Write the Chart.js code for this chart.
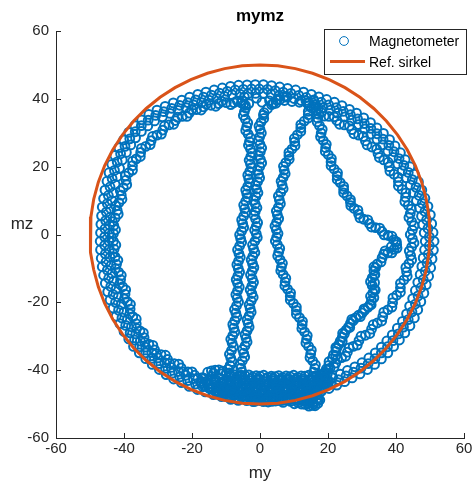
<!DOCTYPE html>
<html>
<head>
<meta charset="utf-8">
<script src="https://cdn.jsdelivr.net/npm/chart.js@4/dist/chart.umd.min.js"></script>
<style>
  html, body { margin: 0; padding: 0; background: #ffffff; }
  #plot { display: block; }
</style>
</head>
<body>
<canvas id="plot" width="476" height="494"></canvas>
<script>
// Magnetometer readings in the my/mz plane, grouped by the trace they belong to.
const outerBand = [
  [51.2,-2.0],[50.9,0.6],[50.5,3.2],[50.1,5.8],[49.4,8.3],[48.5,10.7],[47.6,13.1],[46.6,15.5],[45.4,17.8],[44.1,20.0],
  [42.7,22.1],[41.3,24.1],[39.7,26.1],[38.1,28.0],[36.3,29.8],[34.4,31.4],[32.5,33.0],[30.5,34.4],[28.4,35.8],[26.3,36.9],
  [24.1,38.0],[21.9,39.0],[19.6,39.8],[17.3,40.6],[15.1,41.3],[12.8,42.0],[10.5,42.6],[8.1,43.1],[5.8,43.5],[3.4,43.9],[1.0,44.2],
  [-1.4,44.2],[-3.8,44.1],[-6.3,44.0],[-8.7,43.7],[-11.1,43.2],[-13.5,42.6],[-15.9,42.0],[-18.3,41.3],[-20.7,40.5],[-23.0,39.6],
  [-25.5,38.8],[-27.9,37.8],[-30.3,36.7],[-32.7,35.4],[-34.8,33.8],[-36.8,32.1],[-38.6,30.1],[-40.1,27.9],[-41.5,25.6],[-42.7,23.3],
  [-43.6,20.7],[-44.4,18.2],[-45.0,15.7],[-45.6,13.1],[-46.0,10.6],[-46.4,8.1],[-46.6,5.5],[-46.8,3.0],[-46.9,0.5],[-47.0,-2.0],
  [-46.9,-4.5],[-46.7,-7.0],[-46.4,-9.5],[-46.0,-12.0],[-45.5,-14.4],[-44.8,-16.9],[-44.1,-19.3],[-43.2,-21.7],[-42.3,-24.1],[-41.2,-26.3],
  [-40.0,-28.6],[-38.6,-30.8],[-37.2,-33.0],[-35.5,-34.9],[-33.6,-36.6],[-31.7,-38.3],[-29.6,-39.8],[-27.6,-41.3],[-25.4,-42.6],[-23.1,-43.7],
  [-20.8,-44.8],[-18.4,-45.7],[-16.1,-46.4],[-13.7,-47.2],[-11.3,-47.8],[-8.8,-48.3],[-6.4,-48.7],[-3.9,-49.0],[-1.5,-49.2],[1.0,-49.3],
  [3.5,-49.2],[5.9,-49.0],[8.4,-48.7],[10.8,-48.3],[13.2,-47.7],[15.6,-47.0],[18.0,-46.3],[20.3,-45.4],[22.6,-44.4],[24.9,-43.4],
  [27.1,-42.3],[29.4,-41.1],[31.6,-39.8],[33.7,-38.3],[35.7,-36.7],[37.6,-34.9],[39.3,-33.0],[41.0,-31.1],[42.6,-29.0],[44.1,-26.9],
  [45.4,-24.6],[46.4,-22.2],[47.3,-19.8],[48.2,-17.3],[48.9,-14.8],[49.6,-12.3],[50.2,-9.8],[50.6,-7.2],[51.0,-4.6]
];

const outerBandMid = [
  [49.8,-0.7],[49.4,1.8],[49.0,4.3],[48.5,6.8],[47.7,9.2],[46.8,11.5],[45.9,13.9],[44.8,16.2],[43.6,18.3],[42.3,20.4],
  [40.9,22.4],[39.4,24.4],[37.9,26.3],[36.2,28.1],[34.4,29.7],[32.6,31.3],[30.7,32.7],[28.7,34.1],[26.6,35.3],[24.5,36.3],
  [22.4,37.4],[20.2,38.2],[18.0,39.0],[15.8,39.7],[13.6,40.4],[11.4,41.0],[9.1,41.6],[6.8,42.0],[4.5,42.4],[2.2,42.8],
  [-0.2,42.9],[-2.5,42.9],[-4.9,42.8],[-7.3,42.6],[-9.6,42.2],[-11.9,41.7],[-14.3,41.1],[-16.6,40.5],[-18.9,39.7],[-21.2,38.9],
  [-23.6,38.1],[-26.0,37.2],[-28.3,36.2],[-30.7,35.1],[-32.9,33.7],[-34.9,32.1],[-36.7,30.3],[-38.3,28.2],[-39.7,26.0],[-41.0,23.8],
  [-42.0,21.4],[-42.8,18.9],[-43.5,16.5],[-44.1,14.0],[-44.6,11.5],[-44.9,9.1],[-45.2,6.6],[-45.4,4.1],[-45.6,1.7],[-45.7,-0.7],
  [-45.7,-3.2],[-45.5,-5.7],[-45.3,-8.1],[-44.9,-10.5],[-44.5,-12.9],[-43.9,-15.3],[-43.2,-17.7],[-42.5,-20.0],[-41.6,-22.3],[-40.6,-24.6],
  [-39.5,-26.8],[-38.2,-29.0],[-36.9,-31.1],[-35.4,-33.1],[-33.6,-34.9],[-31.8,-36.5],[-29.8,-38.1],[-27.8,-39.5],[-25.8,-40.9],[-23.6,-42.0],
  [-21.3,-43.1],[-19.0,-44.1],[-16.8,-44.9],[-14.5,-45.6],[-12.1,-46.3],[-9.8,-46.8],[-7.4,-47.2],[-5.0,-47.6],[-2.6,-47.8],[-0.2,-48.0],
  [2.2,-48.0],[4.6,-47.8],[7.0,-47.6],[9.4,-47.2],[11.7,-46.7],[14.0,-46.1],[16.4,-45.4],[18.7,-44.7],[20.9,-43.7],[23.1,-42.8],
  [25.3,-41.7],[27.5,-40.6],[29.7,-39.4],[31.8,-38.1],[33.8,-36.6],[35.7,-34.9],[37.5,-33.1],[39.1,-31.3],[40.7,-29.3],[42.2,-27.3],
  [43.6,-25.1],[44.7,-22.8],[45.7,-20.5],[46.5,-18.1],[47.3,-15.7],[48.0,-13.3],[48.6,-10.8],[49.1,-8.3],[49.5,-5.8],[49.8,-3.3]
];

const outerBandInner = [
  [48.6,-2.0],[48.3,0.5],[47.9,2.9],[47.5,5.4],[46.9,7.8],[46.0,10.0],[45.1,12.3],[44.2,14.6],[43.0,16.7],[41.8,18.8],
  [40.5,20.8],[39.1,22.7],[37.6,24.6],[36.1,26.4],[34.4,28.1],[32.6,29.6],[30.8,31.1],[28.9,32.4],[26.9,33.7],[24.9,34.7],
  [22.8,35.8],[20.7,36.7],[18.5,37.4],[16.4,38.2],[14.3,38.8],[12.1,39.5],[10.0,40.1],[7.7,40.5],[5.5,40.9],[3.3,41.3],[1.0,41.6],
  [-1.3,41.6],[-3.5,41.5],[-5.9,41.4],[-8.2,41.2],[-10.4,40.7],[-12.7,40.1],[-15.0,39.6],[-17.2,38.9],[-19.5,38.2],[-21.7,37.4],
  [-24.1,36.6],[-26.4,35.7],[-28.7,34.7],[-31.0,33.5],[-33.0,32.0],[-34.9,30.4],[-36.6,28.5],[-38.0,26.4],[-39.3,24.2],[-40.5,22.0],
  [-41.3,19.5],[-42.0,17.1],[-42.6,14.8],[-43.1,12.3],[-43.5,9.9],[-43.9,7.6],[-44.0,5.1],[-44.2,2.7],[-44.3,0.4],[-44.4,-2.0],
  [-44.3,-4.4],[-44.1,-6.7],[-43.8,-9.1],[-43.5,-11.5],[-43.0,-13.7],[-42.3,-16.1],[-41.7,-18.4],[-40.8,-20.6],[-40.0,-22.9],[-39.0,-25.0],
  [-37.8,-27.2],[-36.5,-29.3],[-35.2,-31.4],[-33.6,-33.2],[-31.8,-34.8],[-30.0,-36.4],[-28.0,-37.8],[-26.1,-39.2],[-24.0,-40.4],[-21.8,-41.5],
  [-19.6,-42.5],[-17.3,-43.3],[-15.2,-44.0],[-12.9,-44.7],[-10.6,-45.3],[-8.3,-45.8],[-6.0,-46.1],[-3.6,-46.4],[-1.4,-46.6],[1.0,-46.7],
  [3.4,-46.6],[5.6,-46.4],[8.0,-46.1],[10.3,-45.8],[12.5,-45.2],[14.8,-44.5],[17.1,-43.9],[19.2,-43.0],[21.4,-42.1],[23.6,-41.2],
  [25.7,-40.1],[27.9,-39.0],[30.0,-37.8],[32.0,-36.4],[33.9,-34.9],[35.7,-33.2],[37.3,-31.4],[38.9,-29.6],[40.4,-27.6],[41.9,-25.6],
  [43.1,-23.4],[44.0,-21.1],[44.9,-18.9],[45.7,-16.5],[46.4,-14.1],[47.1,-11.8],[47.6,-9.4],[48.0,-6.9],[48.4,-4.5]
];

const leftInnerBand = [
  [-3.3,38.6],[-5.5,38.8],[-7.7,38.9],[-9.9,38.9],[-12.2,38.6],[-14.4,38.1],[-16.6,37.6],[-18.7,36.8],[-20.8,35.8],[-22.9,34.8],
  [-24.9,33.6],[-26.8,32.3],[-28.6,30.8],[-30.3,29.3],[-32.0,27.7],[-33.6,26.0],[-35.1,24.2],[-36.4,22.3],[-37.5,20.3],[-38.6,18.2],
  [-39.4,16.0],[-40.2,13.8],[-40.8,11.6],[-41.5,9.4],[-42.0,7.1],[-42.6,4.9],[-43.0,2.6],[-43.1,0.3],[-43.1,-2.0],[-42.9,-4.3],
  [-42.6,-6.6],[-42.2,-8.8],[-41.6,-11.1],[-41.0,-13.3],[-40.4,-15.4],[-39.7,-17.6],[-39.0,-19.8],[-38.2,-22.0],[-37.4,-24.2],[-36.4,-26.3],
  [-35.3,-28.4],[-34.1,-30.4],[-32.7,-32.3],[-31.0,-34.0],[-29.1,-35.4],[-27.2,-36.8],[-25.2,-38.1],[-23.2,-39.3],[-21.2,-40.5],[-19.2,-41.5],
  [-17.0,-42.2]
];

const leftInnerBandPass2 = [
  [-4.3,38.1],[-6.7,39.4],[-8.6,38.3],[-11.3,39.3],[-13.0,37.8],[-15.8,38.4],[-17.3,36.7],[-20.1,36.8],[-21.5,34.8],[-24.3,34.6],
  [-25.4,32.5],[-28.1,32.0],[-29.0,29.6],[-31.6,28.9],[-32.3,26.5],[-34.9,25.4],[-35.2,23.0],[-37.5,21.6],[-37.5,19.0],[-39.6,17.3],
  [-39.2,14.7],[-41.1,12.9],[-40.6,10.4],[-42.4,8.4],[-41.7,6.0],[-43.4,3.8],[-42.5,1.4],[-43.7,-0.9],[-42.4,-3.1],[-43.3,-5.6],
  [-41.8,-7.6],[-42.5,-10.1],[-40.8,-12.0],[-41.3,-14.6],[-39.5,-16.3],[-39.9,-19.0],[-38.1,-20.6],[-38.3,-23.4],[-36.4,-24.9],[-36.3,-27.7],
  [-34.3,-29.0],[-33.9,-31.8],[-31.5,-32.7],[-30.5,-35.2],[-27.8,-35.6],[-26.6,-38.0],[-23.9,-38.2],[-22.5,-40.5],[-20.0,-40.5],[-18.3,-42.4]
];

const rightInnerBand = [
  [13.5,39.5],[15.8,37.6],[18.0,36.0],[20.3,34.8],[22.6,33.6],[24.8,32.3],[27.0,30.9],[29.0,29.3],[31.0,27.6],[32.9,25.8],
  [34.7,23.9],[36.4,22.0],[38.0,20.0],[39.4,17.8],[40.7,15.6],[41.8,13.3],[42.8,11.0],[43.6,8.6],[44.2,6.2],[44.6,3.8],
  [44.8,1.3],[44.8,-1.2],[44.6,-3.7],[44.3,-6.2],[43.8,-8.6],[43.1,-11.0],[42.3,-13.4],[41.3,-15.7],[40.2,-17.9],[39.0,-20.1],
  [37.6,-22.2],[36.1,-24.2],[34.5,-26.1],[32.8,-27.9],[31.0,-29.7],[29.1,-31.3],[27.4,-33.0],[25.7,-34.7],[24.0,-36.3],[22.3,-37.9],
  [20.6,-39.4],[19.0,-40.9]
];

const rightInnerBandPass2 = [
  [14.4,38.0],[17.2,37.3],[18.9,34.9],[21.8,34.7],[23.4,32.5],[26.3,32.0],[27.6,29.7],[30.4,28.9],[31.5,26.4],[34.3,25.2],
  [35.1,22.7],[37.7,21.3],[38.2,18.7],[40.6,16.9],[40.7,14.3],[42.9,12.3],[42.6,9.7],[44.5,7.5],[43.8,5.0],[45.3,2.6],
  [44.2,0.0],[45.3,-2.5],[43.9,-4.9],[44.6,-7.5],[42.9,-9.7],[43.3,-12.3],[41.3,-14.4],[41.3,-17.0],[39.1,-18.7],[38.8,-21.4],
  [36.4,-22.9],[35.8,-25.5],[33.3,-26.6],[32.3,-29.2],[29.7,-30.0],[28.6,-32.6],[26.2,-33.4],[25.2,-35.9],[22.8,-36.7],[21.8,-39.1],
  [19.5,-39.7]
];

const arrowLoop = [
  [16.6,36.5],[17.0,34.3],[17.5,32.1],[18.0,29.9],[18.6,27.7],[19.3,25.6],[20.1,23.5],[20.9,21.4],[21.8,19.3],[22.7,17.3],
  [23.6,15.3],[24.6,13.3],[25.6,11.4],[26.6,9.5],[27.7,7.7],[29.0,6.0],[30.5,4.5],[32.2,3.2],[34.0,2.0],[35.9,0.9],
  [37.7,-0.3],[39.3,-1.6],[40.2,-3.0],[39.4,-4.4],[37.6,-5.4],[35.9,-6.9],[34.5,-8.7],[33.5,-10.7],[33.0,-12.8],[33.0,-15.0],
  [33.2,-17.2],[32.8,-19.4],[31.8,-21.4],[30.1,-23.1],[28.2,-24.5],[26.6,-26.2],[25.3,-28.2],[24.2,-30.3],[23.2,-32.4],[22.3,-34.5],
  [21.3,-36.6],[20.2,-38.6],[19.1,-40.5],[18.0,-42.3]
];

const arrowLoopPass2 = [
  [17.3,35.4],[16.8,33.2],[18.3,31.0],[17.8,28.8],[19.5,26.6],[19.2,24.5],[21.0,22.4],[20.9,20.3],[22.8,18.2],[22.7,16.2],
  [24.6,14.2],[24.6,12.3],[26.6,10.3],[26.7,8.5],[28.8,7.2],[29.4,4.9],[31.7,4.3],[32.8,2.2],[35.2,1.9],[36.5,-0.1],
  [38.8,-0.5],[40.1,-2.1],[40.3,-4.0],[38.8,-5.4],[36.4,-5.8],[35.6,-8.1],[33.5,-9.5],[33.8,-11.8],[32.5,-13.9],[33.6,-16.1],
  [32.5,-18.2],[32.7,-20.7],[30.6,-21.9],[29.5,-24.2],[27.0,-25.0],[26.4,-27.4],[24.3,-29.1],[24.2,-31.5],[22.3,-33.3],[22.3,-35.7],
  [20.3,-37.5],[20.1,-39.7],[18.1,-41.3]
];

const arrowReturnRepeat = [
  [40.0,-2.2],[38.6,-3.6],[36.8,-4.8],[34.0,-9.8],[33.6,-12.0],[33.7,-14.2],[33.9,-16.4],[33.5,-18.6],[32.4,-20.6],[30.8,-22.3],
  [29.0,-23.8],[27.4,-25.4],[26.0,-27.3],[24.8,-29.3],[23.6,-31.4],[22.6,-33.5],[21.6,-35.5]
];

const centreStrand = [
  [15.8,39.4],[15.2,37.3],[14.2,35.3],[13.0,33.4],[12.0,31.4],[11.0,29.4],[10.2,27.3],[9.4,25.2],[8.5,23.2],[7.6,21.2],
  [7.1,19.0],[6.8,16.8],[6.5,14.6],[6.1,12.4],[5.7,10.2],[5.4,8.0],[5.1,5.8],[4.9,3.6],[4.8,1.4],[4.9,-0.8],
  [5.1,-3.0],[5.5,-5.2],[5.9,-7.4],[6.3,-9.6],[6.8,-11.8],[7.4,-14.0],[8.1,-16.1],[8.9,-18.2],[9.8,-20.3],[10.7,-22.4],
  [11.6,-24.5],[12.4,-26.6],[13.1,-28.7],[13.7,-30.9],[14.3,-33.0],[14.9,-35.2],[15.5,-37.3],[16.1,-39.5],[16.5,-41.6],[16.8,-43.8]
];

const centreStrandPass2 = [
  [16.0,38.3],[14.2,36.3],[14.1,34.3],[12.0,32.4],[12.0,30.4],[10.1,28.3],[10.3,26.2],[8.5,24.2],[8.6,22.2],[6.9,20.1],
  [7.4,17.9],[6.2,15.7],[6.8,13.5],[5.4,11.3],[6.0,9.1],[4.8,6.9],[5.5,4.7],[4.4,2.5],[5.3,0.3],[4.5,-1.9],
  [5.8,-4.1],[5.2,-6.3],[6.6,-8.5],[6.1,-10.7],[7.6,-12.9],[7.3,-15.1],[9.0,-17.2],[8.9,-19.3],[10.7,-21.4],[10.7,-23.5],
  [12.5,-25.6],[12.3,-27.7],[13.9,-29.8],[13.5,-32.0],[15.1,-34.1],[14.7,-36.3],[16.3,-38.4],[15.8,-40.6],[17.1,-42.7]
];

const leftStrandA = [
  [-4.6,40.6],[-4.8,38.4],[-4.6,36.2],[-4.3,34.0],[-3.9,31.8],[-3.5,29.6],[-3.1,27.4],[-2.8,25.2],[-2.7,23.0],[-2.8,20.8],
  [-3.0,18.6],[-3.3,16.4],[-3.6,14.2],[-3.9,12.0],[-4.2,9.8],[-4.5,7.6],[-4.8,5.4],[-5.1,3.2],[-5.4,1.0],[-5.7,-1.2],
  [-6.0,-3.4],[-6.2,-5.6],[-6.3,-7.8],[-6.4,-10.0],[-6.5,-12.2],[-6.6,-14.4],[-6.6,-16.6],[-6.7,-18.8],[-6.9,-21.0],[-7.1,-23.2],
  [-7.4,-25.4],[-7.7,-27.6],[-8.0,-29.8],[-8.2,-32.0],[-8.4,-34.2],[-8.6,-36.4],[-8.8,-38.6],[-9.0,-40.8],[-9.2,-43.0]
];

const leftStrandAPass2 = [
  [-5.2,39.5],[-4.2,37.3],[-4.9,35.1],[-3.6,32.9],[-4.2,30.7],[-2.8,28.5],[-3.4,26.3],[-2.3,24.1],[-3.2,21.9],[-2.4,19.7],
  [-3.6,17.5],[-3.0,15.3],[-4.2,13.1],[-3.6,10.9],[-4.8,8.7],[-4.2,6.5],[-5.4,4.3],[-4.8,2.1],[-6.0,-0.1],[-5.4,-2.3],
  [-6.6,-4.5],[-5.8,-6.7],[-6.8,-8.9],[-6.0,-11.1],[-7.0,-13.3],[-6.1,-15.5],[-7.1,-17.7],[-6.3,-19.9],[-7.5,-22.1],[-6.8,-24.3],
  [-8.0,-26.5],[-7.4,-28.7],[-8.6,-30.9],[-7.8,-33.1],[-9.0,-35.3],[-8.2,-37.5],[-9.4,-39.7],[-8.6,-41.9]
];

const leftStrandB = [
  [8.0,40.6],[5.9,39.8],[3.9,38.6],[2.2,37.1],[1.0,35.2],[0.3,33.1],[0.0,31.0],[-0.1,28.8],[0.0,26.6],[0.1,24.4],
  [0.1,22.2],[-0.1,20.0],[-0.4,17.8],[-0.7,15.6],[-1.0,13.4],[-1.2,11.2],[-1.4,9.0],[-1.4,6.8],[-1.3,4.6],[-1.1,2.4],
  [-1.1,0.2],[-1.5,-2.0],[-1.9,-4.2],[-2.1,-6.4],[-2.2,-8.6],[-2.3,-10.8],[-2.3,-13.0],[-2.4,-15.2],[-2.4,-17.4],[-2.6,-19.6],
  [-2.9,-21.8],[-3.2,-24.0],[-3.5,-26.2],[-3.8,-28.4],[-4.1,-30.6],[-4.4,-32.8],[-4.8,-35.0],[-5.2,-37.2],[-5.6,-39.4],[-6.0,-41.6]
];

const leftStrandBPass2 = [
  [7.1,40.7],[4.7,38.7],[3.4,38.3],[1.2,35.9],[1.1,34.2],[-0.3,32.0],[0.4,29.9],[-0.5,27.7],[0.5,25.5],[-0.4,23.3],
  [0.5,21.1],[-0.7,18.9],[-0.1,16.7],[-1.3,14.5],[-0.6,12.3],[-1.8,10.1],[-0.9,7.9],[-1.8,5.7],[-0.7,3.5],[-1.6,1.3],
  [-0.8,-0.9],[-2.2,-3.1],[-1.5,-5.3],[-2.6,-7.5],[-1.8,-9.7],[-2.8,-11.9],[-1.9,-14.1],[-2.9,-16.3],[-2.0,-18.5],[-3.2,-20.7],
  [-2.6,-22.9],[-3.8,-25.1],[-3.2,-27.3],[-4.4,-29.5],[-3.8,-31.7],[-5.1,-33.9],[-4.5,-36.1],[-5.9,-38.3],[-5.3,-40.5]
];

const topCap = [
  [0.6,39.0],[2.8,39.4],[5.0,39.6],[7.2,39.5],[9.4,39.2],[11.6,39.0],[13.8,38.8],[-1.0,40.2]
];

const bottomCluster = [
  [-15.4,-40.6],[-13.2,-40.0],[-11.0,-40.3],[-8.8,-41.5],[-6.6,-41.9],[-4.4,-41.6],[-2.2,-42.0],[0.0,-41.8],[2.2,-42.1],[4.4,-41.9],
  [6.6,-42.2],[8.8,-41.9],[11.0,-42.1],[13.2,-41.8],[15.4,-42.0],[17.6,-41.7],[19.8,-41.2],
  [-16.3,-42.4],[-14.1,-41.9],[-11.9,-42.2],[-9.7,-42.9],[-7.5,-43.2],[-5.3,-42.8],[-3.1,-43.1],[-0.9,-42.9],[1.3,-43.3],[3.5,-43.0],
  [5.7,-43.2],[7.9,-42.9],[10.1,-43.3],[12.3,-43.0],[14.5,-43.2],[16.7,-43.0],[18.9,-42.6],[21.1,-42.2],
  [-17.4,-43.8],[-15.2,-44.2],[-13.0,-43.6],[-10.8,-44.0],[-8.6,-44.4],[-6.4,-44.1],[-4.2,-44.5],[-2.0,-44.2],[0.2,-44.6],[2.4,-44.3],
  [4.6,-44.5],[6.8,-44.1],[9.0,-44.4],[11.2,-44.2],[13.4,-44.6],[15.6,-44.3],[17.8,-44.0],[20.0,-43.6],
  [-14.1,-45.6],[-11.9,-45.2],[-9.7,-45.5],[-7.5,-45.8],[-5.3,-45.3],[-3.1,-45.7],[-0.9,-45.5],[1.3,-45.8],[3.5,-45.4],[5.7,-45.7],
  [7.9,-45.5],[10.1,-45.8],[12.3,-45.4],[14.5,-45.6],[16.7,-45.2],[18.9,-44.9],
  [-13.0,-46.4],[-10.8,-46.8],[-8.6,-46.6],[-6.4,-47.0],[-4.2,-46.7],[-2.0,-47.1],[0.2,-46.8],[2.4,-47.2],[4.6,-46.9],[6.8,-47.1],
  [9.0,-46.8],[11.2,-47.2],[13.4,-46.9],[15.6,-46.6],[17.8,-46.2],
  [-9.7,-47.9],[-7.5,-48.2],[-5.3,-48.0],[-3.1,-48.3],[-0.9,-48.1],[1.3,-48.4],[3.5,-48.1],[5.7,-48.3],[7.9,-48.0],[10.1,-48.4],
  [12.3,-48.6],[14.5,-48.8],[16.7,-48.4],
  [-2.0,-49.3],[0.2,-49.0],[2.4,-49.4],[4.6,-49.1],[6.8,-49.5],[9.0,-49.2],[11.2,-49.6],[13.4,-50.1],[15.4,-50.4],[17.0,-49.8]
];

const bottomClusterPass2 = [
  [-14.3,-40.2],[-12.1,-39.9],[-9.9,-40.9],[-7.7,-41.3],[-5.5,-41.5],[-3.3,-41.4],[-1.1,-41.6],[1.1,-41.5],[3.3,-41.8],[5.5,-41.6],
  [7.7,-41.7],[9.9,-41.5],[12.1,-41.7],[14.3,-41.5],[16.5,-41.6],[18.7,-41.3],
  [-15.2,-43.0],[-13.0,-42.8],[-10.8,-43.3],[-8.6,-43.5],[-6.4,-43.6],[-4.2,-43.4],[-2.0,-43.7],[0.2,-43.5],[2.4,-43.8],[4.6,-43.6],
  [6.8,-43.7],[9.0,-43.4],[11.2,-43.7],[13.4,-43.5],[15.6,-43.6],[17.8,-43.3],[20.0,-42.9],
  [-16.3,-44.6],[-14.1,-44.9],[-11.9,-44.7],[-9.7,-45.0],[-7.5,-44.9],[-5.3,-45.1],[-3.1,-44.9],[-0.9,-45.2],[1.3,-45.0],[3.5,-45.2],
  [5.7,-44.9],[7.9,-45.1],[10.1,-44.9],[12.3,-45.2],[14.5,-44.9],[16.7,-44.6],[18.9,-44.3],
  [-13.0,-45.9],[-10.8,-46.1],[-8.6,-46.3],[-6.4,-46.0],[-4.2,-46.3],[-2.0,-46.1],[0.2,-46.4],[2.4,-46.1],[4.6,-46.3],[6.8,-46.1],
  [9.0,-46.4],[11.2,-46.1],[13.4,-46.3],[15.6,-45.9],[17.8,-45.5],
  [-11.9,-47.3],[-9.7,-47.5],[-7.5,-47.4],[-5.3,-47.7],[-3.1,-47.4],[-0.9,-47.8],[1.3,-47.5],[3.5,-47.8],[5.7,-47.5],[7.9,-47.8],
  [10.1,-47.6],[12.3,-47.9],[14.5,-47.6],[16.7,-47.2],
  [-8.6,-48.6],[-6.4,-48.9],[-4.2,-48.7],[-2.0,-49.0],[0.2,-48.6],[2.4,-48.9],[4.6,-48.6],[6.8,-48.9],[9.0,-48.7],[11.2,-49.0],
  [13.4,-49.3],[15.6,-49.4],[17.6,-48.8],
  [12.3,-50.0],[14.4,-50.6],[16.2,-50.5],[10.1,-49.9]
];

const bottomClusterPass3 = [
  [-13.7,-40.9],[-11.5,-41.0],[-9.3,-41.9],[-7.1,-42.4],[-4.9,-42.3],[-2.7,-42.5],[-0.5,-42.4],[1.7,-42.6],[3.9,-42.4],[6.1,-42.7],
  [8.3,-42.5],[10.5,-42.7],[12.7,-42.5],[14.9,-42.6],[17.1,-42.3],[19.3,-42.0],
  [-15.8,-43.5],[-13.6,-43.2],[-11.4,-43.8],[-9.2,-44.0],[-7.0,-44.0],[-4.8,-44.0],[-2.6,-44.3],[-0.4,-44.1],[1.8,-44.4],[4.0,-44.1],
  [6.2,-44.3],[8.4,-44.0],[10.6,-44.3],[12.8,-44.1],[15.0,-44.4],[17.2,-44.1],[19.4,-43.8],
  [-15.0,-45.3],[-12.8,-45.1],[-10.6,-45.6],[-8.4,-45.4],[-6.2,-45.7],[-4.0,-45.5],[-1.8,-45.8],[0.4,-45.6],[2.6,-45.9],[4.8,-45.6],
  [7.0,-45.8],[9.2,-45.6],[11.4,-45.9],[13.6,-45.7],[15.8,-45.4],[18.0,-45.0],
  [-12.4,-46.9],[-10.2,-47.2],[-8.0,-47.0],[-5.8,-47.4],[-3.6,-47.1],[-1.4,-47.5],[0.8,-47.2],[3.0,-47.5],[5.2,-47.2],[7.4,-47.5],
  [9.6,-47.3],[11.8,-47.6],[14.0,-47.3],[16.2,-47.0],
  [-7.0,-48.5],[-4.8,-48.4],[-2.6,-48.6],[-0.4,-48.5],[1.8,-48.7],[4.0,-48.5],[6.2,-48.7],[8.4,-48.5],[10.6,-48.8],[12.8,-49.0],
  [15.0,-49.1],[17.2,-48.6],[14.0,-49.7],[15.8,-49.9]
];

// Reference circle (radius 50) sampled every 6 degrees.
const refMy = [50,49.73,48.91,47.55,45.68,43.30,40.45,37.16,33.46,29.39,25.00,20.34,15.45,10.40,5.23,0,
  -5.23,-10.40,-15.45,-20.34,-25.00,-29.39,-33.46,-37.16,-40.45,-43.30,-45.68,-47.55,-48.91,-49.73,-50,
  -49.73,-48.91,-47.55,-45.68,-43.30,-40.45,-37.16,-33.46,-29.39,-25.00,-20.34,-15.45,-10.40,-5.23,0,
  5.23,10.40,15.45,20.34,25.00,29.39,33.46,37.16,40.45,43.30,45.68,47.55,48.91,49.73,50];
const refMz = [0,5.23,10.40,15.45,20.34,25.00,29.39,33.46,37.16,40.45,43.30,45.68,47.55,48.91,49.73,50,
  49.73,48.91,47.55,45.68,43.30,40.45,37.16,33.46,29.39,25.00,20.34,15.45,10.40,5.23,0,
  -5.23,-10.40,-15.45,-20.34,-25.00,-29.39,-33.46,-37.16,-40.45,-43.30,-45.68,-47.55,-48.91,-49.73,-50,
  -49.73,-48.91,-47.55,-45.68,-43.30,-40.45,-37.16,-33.46,-29.39,-25.00,-20.34,-15.45,-10.40,-5.23,0];

const axisTicks = [-60, -40, -20, 0, 20, 40, 60];
const titleText = 'mymz';
const xLabel = 'my';
const yLabel = 'mz';
const seriesNames = ['Magnetometer', 'Ref. sirkel'];

const BLUE = '#0072BD';
const ORANGE = '#D95319';
const AXIS = '#262626';
const FONT = "'Liberation Sans', Arial, Helvetica, sans-serif";

const magnetometerPoints = [
  outerBand, outerBandMid, outerBandInner, leftInnerBand, leftInnerBandPass2, rightInnerBand, rightInnerBandPass2,
  arrowLoop, arrowLoopPass2, arrowReturnRepeat, centreStrand, centreStrandPass2, leftStrandA, leftStrandAPass2,
  leftStrandB, leftStrandBPass2, topCap, bottomCluster, bottomClusterPass2, bottomClusterPass3
].flat().map(([my, mz]) => ({ x: my, y: mz }));
const refPoints = refMy.map((my, i) => ({ x: my, y: refMz[i] }));

// Titles, axis labels, inward tick marks and the boxed legend.
const decorations = {
  id: 'decorations',
  afterDraw(chart) {
    const { ctx, chartArea: a, scales: { x, y } } = chart;
    ctx.save();
    ctx.strokeStyle = AXIS;
    ctx.lineWidth = 1;
    ctx.beginPath();
    axisTicks.forEach(v => {
      const px = Math.round(x.getPixelForValue(v)) + 0.5;
      ctx.moveTo(px, a.bottom);
      ctx.lineTo(px, a.bottom - 5);
      const py = Math.round(y.getPixelForValue(v)) + 0.5;
      ctx.moveTo(a.left, py);
      ctx.lineTo(a.left + 5, py);
    });
    ctx.stroke();

    ctx.textAlign = 'center';
    ctx.textBaseline = 'alphabetic';
    ctx.fillStyle = '#000000';
    ctx.font = 'bold 17px ' + FONT;
    ctx.fillText(titleText, (a.left + a.right) / 2, 21);

    ctx.fillStyle = AXIS;
    ctx.font = '17px ' + FONT;
    ctx.fillText(xLabel, (a.left + a.right) / 2, 478);
    ctx.fillText(yLabel, 22, 229);

    // legend
    const bx = 324.5, by = 29.5, bw = 142, bh = 45;
    ctx.fillStyle = '#ffffff';
    ctx.fillRect(bx, by, bw, bh);
    ctx.strokeStyle = AXIS;
    ctx.lineWidth = 1;
    ctx.strokeRect(bx, by, bw, bh);

    ctx.strokeStyle = BLUE;
    ctx.lineWidth = 1;
    ctx.beginPath();
    ctx.arc(344, 41, 4.4, 0, Math.PI * 2);
    ctx.stroke();

    ctx.strokeStyle = ORANGE;
    ctx.lineWidth = 3;
    ctx.beginPath();
    ctx.moveTo(330, 61.5);
    ctx.lineTo(365, 61.5);
    ctx.stroke();

    ctx.fillStyle = '#000000';
    ctx.font = '14px ' + FONT;
    ctx.textAlign = 'left';
    ctx.fillText(seriesNames[0], 369, 46);
    ctx.fillText(seriesNames[1], 369, 66.5);
    ctx.restore();
  }
};

const axisCommon = {
  type: 'linear',
  min: -60,
  max: 60,
  grid: { display: true, drawOnChartArea: false, drawTicks: false },
  border: { display: true, color: AXIS, width: 1 },
  ticks: {
    stepSize: 20,
    autoSkip: false,
    maxRotation: 0,
    color: AXIS,
    font: { family: FONT, size: 15 }
  }
};

new Chart(document.getElementById('plot'), {
  type: 'scatter',
  data: {
    datasets: [
      {
        label: seriesNames[0],
        data: magnetometerPoints,
        order: 1,
        pointStyle: 'circle',
        pointRadius: 4.4,
        pointBorderWidth: 2.0,
        pointBorderColor: BLUE,
        pointBackgroundColor: 'rgba(0,0,0,0)',
        showLine: false
      },
      {
        label: seriesNames[1],
        data: refPoints,
        order: 0,
        showLine: true,
        pointRadius: 0,
        borderColor: ORANGE,
        borderWidth: 3,
        tension: 0,
        fill: false
      }
    ]
  },
  options: {
    responsive: false,
    animation: false,
    devicePixelRatio: 1,
    events: [],
    layout: { padding: { top: 31, right: 12, left: 0, bottom: 0 } },
    plugins: {
      legend: { display: false },
      title: { display: false },
      tooltip: { enabled: false }
    },
    scales: {
      x: Object.assign({}, axisCommon, {
        position: 'bottom',
        ticks: Object.assign({}, axisCommon.ticks, { padding: 2 }),
        afterFit(scale) { scale.height = 56; }
      }),
      y: Object.assign({}, axisCommon, {
        position: 'left',
        ticks: Object.assign({}, axisCommon.ticks, { padding: 7 }),
        afterFit(scale) { scale.width = 56; }
      })
    }
  },
  plugins: [decorations]
});
</script>
</body>
</html>
